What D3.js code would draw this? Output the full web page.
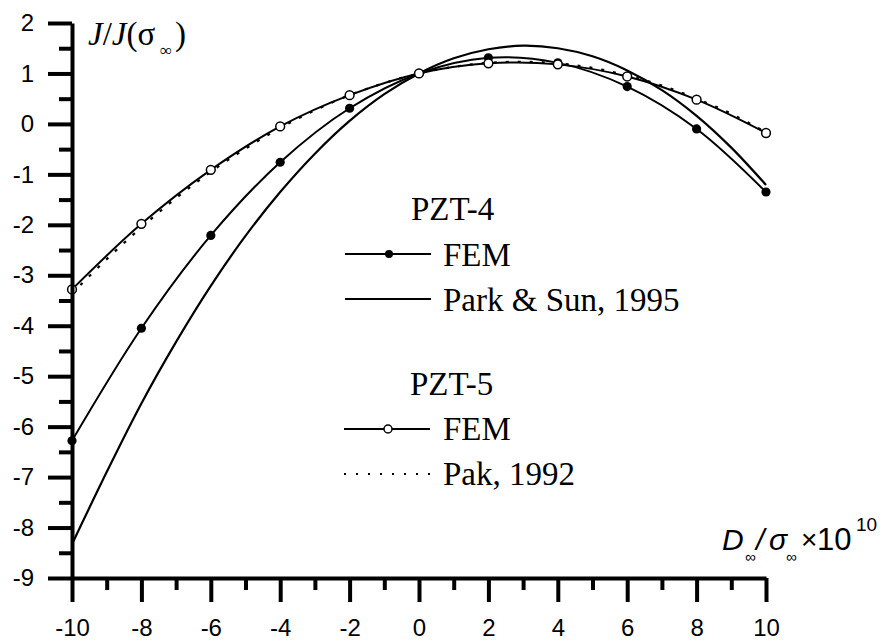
<!DOCTYPE html>
<html>
<head>
<meta charset="utf-8">
<script src="https://cdn.jsdelivr.net/npm/d3@7"></script>
<style>
  html, body { margin: 0; padding: 0; background: #fff; }
  svg { display: block; }
</style>
</head>
<body>
<svg id="chart" width="882" height="644"></svg>
<script>
// ---- data ----
const xFEM = [-10, -8, -6, -4, -2, 0, 2, 4, 6, 8, 10];
const femPZT4 = [-6.28, -4.05, -2.21, -0.76, 0.31, 1.0, 1.31, 1.21, 0.74, -0.10, -1.35];
const femPZT5 = [-3.28, -1.98, -0.91, -0.05, 0.57, 1.0, 1.20, 1.18, 0.94, 0.48, -0.18];
const xTheory = [-10, -9, -8, -7, -6, -5, -4, -3, -2, -1, 0, 1, 2, 3, 4, 5, 6, 7, 8, 9, 10];
const parkSun1995 = [-8.33, -6.90, -5.54, -4.32, -3.21, -2.22, -1.35, -0.59, 0.06, 0.59, 1.0, 1.30, 1.48, 1.55, 1.50, 1.34, 1.06, 0.67, 0.16, -0.47, -1.21];
const pak1992 = [-3.36, -2.68, -2.05, -1.47, -0.95, -0.49, -0.08, 0.27, 0.57, 0.81, 1.0, 1.13, 1.21, 1.23, 1.20, 1.11, 0.96, 0.76, 0.50, 0.20, -0.17];
const xMajorTicks = [-10, -8, -6, -4, -2, 0, 2, 4, 6, 8, 10];
const xMinorTicks = [-9, -7, -5, -3, -1, 1, 3, 5, 7, 9];
const yMajorTicks = [-9, -8, -7, -6, -5, -4, -3, -2, -1, 0, 1, 2];
const yMinorTicks = [-8.5, -7.5, -6.5, -5.5, -4.5, -3.5, -2.5, -1.5, -0.5, 0.5, 1.5];

const svg = d3.select("#chart");
const x = d3.scaleLinear().domain([-10, 10]).range([72, 766]);
const y = d3.scaleLinear().domain([-9, 2]).range([578, 23]);

const sans = "'Liberation Sans', Arial, sans-serif";
const serif = "'Liberation Serif', 'Times New Roman', serif";

// ---- curves ----
const line = d3.line().x(d => x(d[0])).y(d => y(d[1])).curve(d3.curveCatmullRom.alpha(0.5));
const zip = (xs, ys) => xs.map((v, i) => [v, ys[i]]);

const g = svg.append("g");
g.append("path").datum(zip(xTheory, parkSun1995)).attr("d", line)
  .attr("fill", "none").attr("stroke", "#000").attr("stroke-width", 2.2);
g.append("path").datum(zip(xTheory, pak1992)).attr("d", line)
  .attr("fill", "none").attr("stroke", "#000").attr("stroke-width", 2.2)
  .attr("stroke-dasharray", "3,9");
g.append("path").datum(zip(xFEM, femPZT4)).attr("d", line)
  .attr("fill", "none").attr("stroke", "#000").attr("stroke-width", 2);
g.append("path").datum(zip(xFEM, femPZT5)).attr("d", line)
  .attr("fill", "none").attr("stroke", "#000").attr("stroke-width", 2);

g.selectAll("circle.f4").data(zip(xFEM, femPZT4)).join("circle")
  .attr("cx", d => x(d[0])).attr("cy", d => y(d[1])).attr("r", 4.6).attr("fill", "#000");
g.selectAll("circle.f5").data(zip(xFEM, femPZT5)).join("circle")
  .attr("cx", d => x(d[0])).attr("cy", d => y(d[1])).attr("r", 4.4)
  .attr("fill", "#fff").attr("stroke", "#000").attr("stroke-width", 1.5);

// ---- axes ----
function styleAxis(sel) {
  sel.select(".domain").attr("stroke-width", 4).attr("stroke", "#000");
  sel.selectAll(".tick line").attr("stroke-width", 4).attr("stroke", "#000");
  sel.selectAll(".tick text").attr("font-family", sans).attr("font-size", 24).attr("fill", "#000");
}
const fmt = d => String(d);

const yAxis = svg.append("g").attr("transform", `translate(${x(-10)},0)`)
  .call(d3.axisLeft(y).tickValues(yMajorTicks).tickFormat(fmt).tickSize(24).tickSizeOuter(0).tickPadding(14));
styleAxis(yAxis);
const yMinor = svg.append("g").attr("transform", `translate(${x(-10)},0)`)
  .call(d3.axisLeft(y).tickValues(yMinorTicks).tickFormat("").tickSize(13).tickSizeOuter(0));
yMinor.select(".domain").remove();
yMinor.selectAll(".tick line").attr("stroke-width", 4);

const xAxis = svg.append("g").attr("transform", `translate(0,${y(-9)})`)
  .call(d3.axisBottom(x).tickValues(xMajorTicks).tickFormat(fmt).tickSize(24).tickSizeOuter(0).tickPadding(17));
styleAxis(xAxis);
const xMinor = svg.append("g").attr("transform", `translate(0,${y(-9)})`)
  .call(d3.axisBottom(x).tickValues(xMinorTicks).tickFormat("").tickSize(12).tickSizeOuter(0));
xMinor.select(".domain").remove();
xMinor.selectAll(".tick line").attr("stroke-width", 4);

// ---- axis titles ----
const yt = svg.append("text").attr("x", 88).attr("y", 45)
  .attr("font-family", serif).attr("font-size", 33).attr("fill", "#000");
yt.append("tspan").attr("font-style", "italic").text("J");
yt.append("tspan").text("/");
yt.append("tspan").attr("font-style", "italic").text("J");
yt.append("tspan").text("(σ");
svg.append("text").attr("x", 160).attr("y", 56).attr("font-family", serif).attr("font-size", 17).text("∞");
svg.append("text").attr("x", 175).attr("y", 45).attr("font-family", serif).attr("font-size", 33).text(")");

const xt = svg.append("g").attr("font-family", sans).attr("fill", "#000");
xt.append("text").attr("x", 722).attr("y", 550).attr("font-size", 30).attr("font-style", "italic").text("D");
xt.append("text").attr("x", 745).attr("y", 562).attr("font-size", 15).attr("font-style", "italic").text("∞");
xt.append("text").attr("x", 756).attr("y", 550).attr("font-size", 30).attr("font-style", "italic").text("/");
xt.append("text").attr("x", 769).attr("y", 550).attr("font-size", 30).attr("font-style", "italic").text("σ");
xt.append("text").attr("x", 786).attr("y", 562).attr("font-size", 15).attr("font-style", "italic").text("∞");
xt.append("text").attr("x", 801).attr("y", 549).attr("font-size", 28).text("×");
xt.append("text").attr("x", 817).attr("y", 550).attr("font-size", 31).text("10");
xt.append("text").attr("x", 856).attr("y", 531).attr("font-size", 19).text("10");

// ---- legend ----
const leg = svg.append("g").attr("font-family", serif).attr("font-size", 33).attr("fill", "#000");
leg.append("text").attr("x", 411).attr("y", 220).text("PZT-4");
leg.append("line").attr("x1", 345).attr("x2", 431).attr("y1", 254).attr("y2", 254).attr("stroke", "#000").attr("stroke-width", 2);
leg.append("circle").attr("cx", 389).attr("cy", 254).attr("r", 4).attr("fill", "#000");
leg.append("text").attr("x", 443).attr("y", 266).text("FEM");
leg.append("line").attr("x1", 345).attr("x2", 431).attr("y1", 299).attr("y2", 299).attr("stroke", "#000").attr("stroke-width", 2);
leg.append("text").attr("x", 443).attr("y", 311).text("Park & Sun, 1995");

leg.append("text").attr("x", 410).attr("y", 395).text("PZT-5");
leg.append("line").attr("x1", 344).attr("x2", 430).attr("y1", 429).attr("y2", 429).attr("stroke", "#000").attr("stroke-width", 2);
leg.append("circle").attr("cx", 388).attr("cy", 429).attr("r", 4).attr("fill", "#fff").attr("stroke", "#000").attr("stroke-width", 1.5);
leg.append("text").attr("x", 443).attr("y", 440).text("FEM");
leg.append("line").attr("x1", 344).attr("x2", 430).attr("y1", 474).attr("y2", 474).attr("stroke", "#000").attr("stroke-width", 2).attr("stroke-dasharray", "2,10");
leg.append("text").attr("x", 443).attr("y", 485).text("Pak, 1992");
</script>
</body>
</html>
